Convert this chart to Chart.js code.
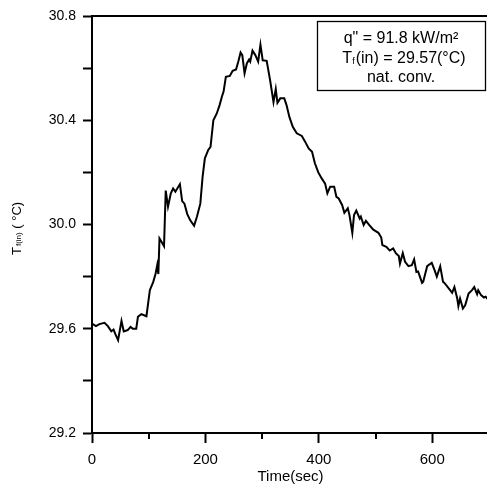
<!DOCTYPE html>
<html>
<head>
<meta charset="utf-8">
<script src="https://cdn.jsdelivr.net/npm/chart.js@4/dist/chart.umd.min.js"></script>
<style>
    html, body { margin: 0; padding: 0; overflow: hidden; background: #fff; }
    #wrap { width: 495px; height: 490px; }
</style>
</head>
<body>
<div id="wrap"><canvas id="temp-chart" width="495" height="490"></canvas></div>
<script>
// time in seconds
const timeSec = [0, 7, 13, 22, 28, 34, 38, 41, 46, 52, 56, 63, 68, 72, 78, 81, 87, 96, 102, 108,
    112, 115, 117, 119, 121, 127, 130, 134, 139, 143, 147, 155, 159, 163, 168, 173, 180, 185, 191, 195,
    199, 205, 209, 214, 220, 225, 229, 232, 236, 243, 248, 254, 258, 262, 265, 269, 273, 277, 279, 283,
    288, 293, 297, 301, 308, 314, 320, 324, 327, 332, 339, 343, 348, 354, 361, 370, 376, 382, 388, 393,
    399, 405, 411, 415, 420, 427, 431, 435, 441, 445, 451, 454, 459, 462, 466, 472, 474, 479, 483, 489,
    496, 505, 510, 512, 519, 525, 531, 536, 541, 543, 548, 552, 558, 564, 568, 572, 575, 582, 584, 591,
    599, 604, 608, 614, 619, 621, 628, 635, 639, 644, 646, 649, 654, 658, 664, 670, 674, 679, 681, 686,
    691, 694, 697, 700];

// inlet temperature
const tempIn = [29.620, 29.610, 29.618, 29.623, 29.610, 29.590, 29.597, 29.580, 29.556, 29.630, 29.590, 29.595, 29.607, 29.600, 29.600, 29.646, 29.656, 29.648, 29.748, 29.780,
    29.810, 29.844, 29.810, 29.947, 29.940, 29.917, 30.130, 30.068, 30.120, 30.138, 30.126, 30.155, 30.090, 30.080, 30.040, 30.017, 29.995, 30.030, 30.080, 30.183,
    30.254, 30.286, 30.298, 30.400, 30.426, 30.458, 30.490, 30.510, 30.567, 30.570, 30.590, 30.595, 30.625, 30.660, 30.650, 30.580, 30.618, 30.633, 30.625, 30.667,
    30.650, 30.625, 30.690, 30.630, 30.628, 30.554, 30.470, 30.520, 30.467, 30.484, 30.484, 30.458, 30.413, 30.375, 30.350, 30.340, 30.317, 30.292, 30.279, 30.235,
    30.200, 30.177, 30.157, 30.120, 30.145, 30.145, 30.106, 30.100, 30.075, 30.045, 30.062, 30.036, 29.968, 30.036, 30.053, 30.023, 30.030, 29.998, 30.014, 29.998,
    29.980, 29.968, 29.950, 29.921, 29.914, 29.900, 29.908, 29.889, 29.879, 29.850, 29.890, 29.857, 29.840, 29.844, 29.866, 29.818, 29.820, 29.776, 29.780, 29.840,
    29.853, 29.825, 29.800, 29.840, 29.780, 29.777, 29.758, 29.738, 29.760, 29.716, 29.687, 29.716, 29.678, 29.690, 29.735, 29.748, 29.760, 29.733, 29.748, 29.729,
    29.720, 29.723, 29.716, 29.715];

const minorTimeTicks = [100, 300, 500, 700];
const noteLines = ['q" = 91.8 kW/m²', '(in) = 29.57(°C)', 'nat. conv.'];

const sans = '"Liberation Sans", Arial, sans-serif';

const extrasPlugin = {
    id: 'extras',
    afterDraw: (chart) => {
        const ctx = chart.ctx;
        const area = chart.chartArea;
        const xScale = chart.scales.x;
        ctx.save();
        ctx.strokeStyle = '#000';
        ctx.lineWidth = 2;
        ctx.beginPath();
        ctx.moveTo(area.left - 1, area.top);
        ctx.lineTo(area.right, area.top);
        ctx.lineTo(area.right, area.bottom);
        minorTimeTicks.forEach((t) => {
            const px = Math.round(xScale.getPixelForValue(t));
            ctx.moveTo(px, area.bottom);
            ctx.lineTo(px, area.bottom + 6);
        });
        ctx.stroke();

        // note box
        ctx.lineWidth = 1.3;
        ctx.fillStyle = '#fff';
        ctx.fillRect(317.5, 21.5, 168, 69);
        ctx.strokeRect(317.5, 21.5, 168, 69);
        ctx.fillStyle = '#000';
        ctx.textBaseline = 'alphabetic';
        ctx.textAlign = 'center';
        ctx.font = '16px ' + sans;
        ctx.fillText(noteLines[0], 401, 43);
        ctx.fillText(noteLines[2], 401, 82);
        ctx.textAlign = 'left';
        const wT = ctx.measureText('T').width;
        const wRest = ctx.measureText(noteLines[1]).width;
        ctx.font = '9px ' + sans;
        const wSub = ctx.measureText('f').width + 1;
        let x0 = 404 - (wT + wSub + wRest) / 2;
        ctx.font = '16px ' + sans;
        ctx.fillText('T', x0, 63);
        ctx.font = '9px ' + sans;
        ctx.fillText('f', x0 + wT, 64);
        ctx.font = '16px ' + sans;
        ctx.fillText(noteLines[1], x0 + wT + wSub, 63);

        // y axis title
        ctx.translate(21, 255);
        ctx.rotate(-Math.PI / 2);
        ctx.font = '13px ' + sans;
        ctx.fillText('T', 0, 0);
        let pos = ctx.measureText('T').width + 1;
        ctx.font = '8px ' + sans;
        ctx.fillText('f(in)', pos, 0);
        pos += ctx.measureText('f(in)').width;
        ctx.font = '13px ' + sans;
        ctx.fillText(' ( °C)', pos, 0);
        ctx.restore();
    }
};

const initChart = () => {
    new Chart(document.querySelector('#temp-chart'), {
        type: 'line',
        data: {
            datasets: [
                {
                    data: timeSec.map((t, i) => ({ x: t, y: tempIn[i] })),
                    borderColor: '#000',
                    borderWidth: 2,
                    pointRadius: 0,
                    tension: 0,
                    fill: false
                }
            ]
        },
        options: {
            responsive: false,
            animation: false,
            devicePixelRatio: 1,
            layout: { padding: { left: 0, top: 16, right: 6, bottom: 0 } },
            plugins: {
                legend: { display: false },
                tooltip: { enabled: false }
            },
            scales: {
                x: {
                    type: 'linear',
                    min: 0,
                    max: 700,
                    afterFit: (scale) => { scale.height = 57; },
                    border: { display: true, color: '#000', width: 2 },
                    grid: { drawOnChartArea: false, drawTicks: true, tickLength: 10, tickColor: '#000', tickWidth: 2 },
                    ticks: {
                        stepSize: 200,
                        includeBounds: false,
                        padding: 8,
                        color: '#000',
                        maxRotation: 0,
                        font: { family: sans, size: 15 }
                    },
                    title: {
                        display: true,
                        text: 'Time(sec)',
                        color: '#000',
                        font: { family: sans, size: 15 },
                        padding: { top: 0, bottom: 4 }
                    }
                },
                y: {
                    min: 29.2,
                    max: 30.8,
                    afterFit: (scale) => { scale.width = 92; },
                    border: { display: true, color: '#000', width: 2 },
                    grid: { drawOnChartArea: false, drawTicks: true, tickLength: 9, tickColor: '#000', tickWidth: 2 },
                    ticks: {
                        stepSize: 0.2,
                        autoSkip: false,
                        padding: 7,
                        color: '#000',
                        font: { family: sans, size: 14 },
                        callback: (v) => (Math.round(v * 10) % 4 === 0 ? v.toFixed(1) : '')
                    }
                }
            }
        },
        plugins: [extrasPlugin]
    });
};

initChart();
</script>
</body>
</html>
